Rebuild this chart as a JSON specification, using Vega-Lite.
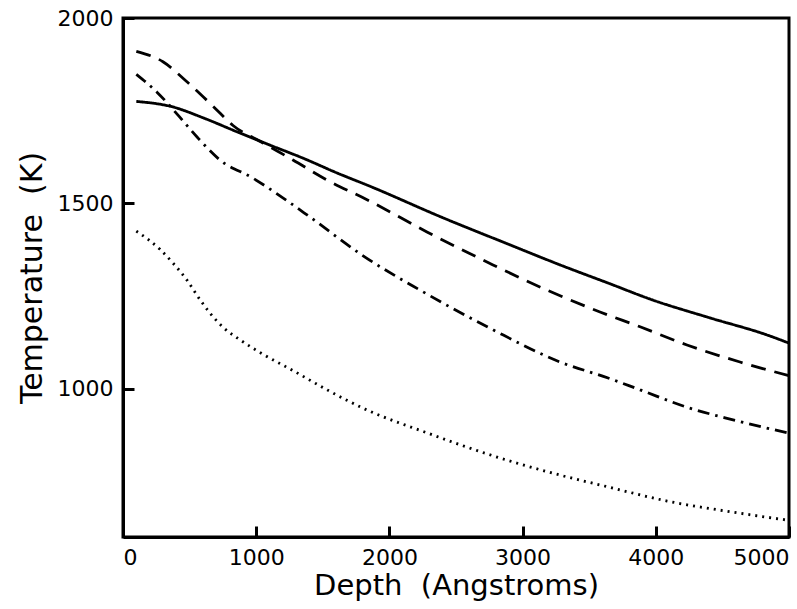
{
  "$schema": "https://vega.github.io/schema/vega-lite/v6.json",
  "width": 666,
  "height": 519,
  "autosize": {"type": "none"},
  "padding": {"left": 123, "top": 18, "right": 8, "bottom": 72},
  "background": "white",
  "config": {
    "view": {"stroke": "black", "strokeWidth": 3}
  },
  "data": {
    "values": [
      {"depth": 100, "temp": 1775, "series": "a"},
      {"depth": 375, "temp": 1760, "series": "a"},
      {"depth": 600, "temp": 1731, "series": "a"},
      {"depth": 856, "temp": 1693, "series": "a"},
      {"depth": 1104, "temp": 1657, "series": "a"},
      {"depth": 1351, "temp": 1622, "series": "a"},
      {"depth": 1607, "temp": 1582, "series": "a"},
      {"depth": 1855, "temp": 1546, "series": "a"},
      {"depth": 2403, "temp": 1461, "series": "a"},
      {"depth": 2906, "temp": 1388, "series": "a"},
      {"depth": 3281, "temp": 1334, "series": "a"},
      {"depth": 3642, "temp": 1285, "series": "a"},
      {"depth": 3979, "temp": 1239, "series": "a"},
      {"depth": 4407, "temp": 1191, "series": "a"},
      {"depth": 4835, "temp": 1145, "series": "a"},
      {"depth": 5000, "temp": 1123, "series": "a"},
      {"depth": 100, "temp": 1910, "series": "b"},
      {"depth": 300, "temp": 1882, "series": "b"},
      {"depth": 480, "temp": 1828, "series": "b"},
      {"depth": 676, "temp": 1762, "series": "b"},
      {"depth": 826, "temp": 1710, "series": "b"},
      {"depth": 1051, "temp": 1663, "series": "b"},
      {"depth": 1276, "temp": 1617, "series": "b"},
      {"depth": 1532, "temp": 1563, "series": "b"},
      {"depth": 1832, "temp": 1510, "series": "b"},
      {"depth": 2282, "temp": 1423, "series": "b"},
      {"depth": 2778, "temp": 1334, "series": "b"},
      {"depth": 3183, "temp": 1266, "series": "b"},
      {"depth": 3581, "temp": 1207, "series": "b"},
      {"depth": 3882, "temp": 1167, "series": "b"},
      {"depth": 4234, "temp": 1118, "series": "b"},
      {"depth": 4632, "temp": 1072, "series": "b"},
      {"depth": 5000, "temp": 1035, "series": "b"},
      {"depth": 100, "temp": 1848, "series": "c"},
      {"depth": 255, "temp": 1800, "series": "c"},
      {"depth": 413, "temp": 1738, "series": "c"},
      {"depth": 556, "temp": 1679, "series": "c"},
      {"depth": 728, "temp": 1617, "series": "c"},
      {"depth": 976, "temp": 1568, "series": "c"},
      {"depth": 1200, "temp": 1515, "series": "c"},
      {"depth": 1404, "temp": 1463, "series": "c"},
      {"depth": 1817, "temp": 1355, "series": "c"},
      {"depth": 2230, "temp": 1266, "series": "c"},
      {"depth": 2778, "temp": 1159, "series": "c"},
      {"depth": 3281, "temp": 1072, "series": "c"},
      {"depth": 3642, "temp": 1029, "series": "c"},
      {"depth": 3882, "temp": 997, "series": "c"},
      {"depth": 4234, "temp": 950, "series": "c"},
      {"depth": 4580, "temp": 916, "series": "c"},
      {"depth": 5000, "temp": 880, "series": "c"},
      {"depth": 100, "temp": 1425, "series": "d"},
      {"depth": 278, "temp": 1376, "series": "d"},
      {"depth": 375, "temp": 1339, "series": "d"},
      {"depth": 480, "temp": 1293, "series": "d"},
      {"depth": 563, "temp": 1248, "series": "d"},
      {"depth": 653, "temp": 1204, "series": "d"},
      {"depth": 751, "temp": 1166, "series": "d"},
      {"depth": 878, "temp": 1132, "series": "d"},
      {"depth": 1051, "temp": 1093, "series": "d"},
      {"depth": 1276, "temp": 1049, "series": "d"},
      {"depth": 1532, "temp": 997, "series": "d"},
      {"depth": 1817, "temp": 945, "series": "d"},
      {"depth": 2282, "temp": 881, "series": "d"},
      {"depth": 2778, "temp": 819, "series": "d"},
      {"depth": 3281, "temp": 767, "series": "d"},
      {"depth": 3642, "temp": 735, "series": "d"},
      {"depth": 4084, "temp": 697, "series": "d"},
      {"depth": 4580, "temp": 667, "series": "d"},
      {"depth": 5000, "temp": 645, "series": "d"}
    ]
  },
  "mark": {"type": "line", "color": "black", "strokeWidth": 2.8, "interpolate": "monotone"},
  "encoding": {
    "x": {"field": "depth", "type": "quantitative",
      "scale": {"domain": [0, 5000], "nice": false, "zero": false},
      "axis": {"values": [0, 1000, 2000, 3000, 4000, 5000], "format": "d", "grid": true, "gridOpacity": 0, "domainColor": "black", "domainWidth": 3, "ticks": true, "tickSize": -11, "tickColor": "black", "tickWidth": 3, "tickOpacity": 1, "labelPadding": 21, "labelFontSize": 22, "labelFont": "DejaVu Sans", "labelColor": "black", "labelFlush": true, "title": "Depth\u00a0\u00a0(Angstroms)", "titleFont": "DejaVu Sans", "titleFontWeight": "normal", "titleColor": "black", "titleFontSize": 29, "titlePadding": 3}},
    "y": {"field": "temp", "type": "quantitative",
      "scale": {"domain": [600, 2000], "nice": false, "zero": false},
      "axis": {"values": [1000, 1500, 2000], "format": "d", "grid": true, "gridOpacity": 0, "domainColor": "black", "domainWidth": 3, "ticks": true, "tickSize": -11, "tickColor": "black", "tickWidth": 3, "tickOpacity": 1, "labelPadding": 21, "labelFontSize": 22, "labelFont": "DejaVu Sans", "labelColor": "black", "labelFlush": false, "title": "Temperature\u00a0\u00a0(K)", "titleFont": "DejaVu Sans", "titleFontWeight": "normal", "titleColor": "black", "titleFontSize": 30, "titlePadding": 10}},
    "detail": {"field": "series"},
    "strokeDash": {"field": "series", "type": "nominal", "legend": null,
      "scale": {"domain": ["a", "b", "c", "d"], "range": [[1, 0], [15, 9], [12, 6, 2.5, 6], [2, 5]]}}
  }
}
